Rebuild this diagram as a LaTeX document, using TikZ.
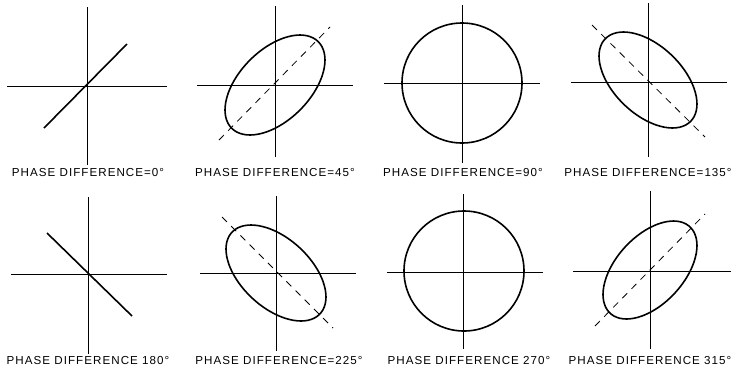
\documentclass[tikz,border=0pt]{standalone}
\usepackage{fontspec}
\newfontfamily\labfont[LetterSpace=9]{Liberation Sans}
\begin{document}
\begin{tikzpicture}[x=1pt,y=-1pt,
  axis/.style={line width=0.8pt},
  trace/.style={line width=1.6pt},
  guide/.style={line width=0.8pt, dash pattern=on 7pt off 6pt},
  caption/.style={font=\labfont\fontsize{11.6}{13}\selectfont, inner sep=0pt, anchor=center}]
\useasboundingbox (0,0) rectangle (742,368);
% ---------- top row ----------
% panel 1 : 0 deg
\draw[axis] (87,7) -- (87,165);
\draw[axis] (7,86) -- (167,86);
\draw[trace] (44,128) -- (127,44);
\node[caption] (l1) at (88,172) {PHASE DIFFERENCE=0°};
% panel 2 : 45 deg
\draw[axis] (275,6) -- (275,157);
\draw[axis] (197,85) -- (353,85);
\draw[guide] (219,140) -- (330,27);
\draw[trace] plot[smooth cycle, domain=0:350, samples=36, variable=\t] ({275+50*sin(\t)},{85-50*sin(\t+60)});
\node[caption] (l2) at (275,172) {PHASE DIFFERENCE=45°};
% panel 3 : 90 deg
\draw[axis] (462,5) -- (462,163);
\draw[axis] (384,83) -- (540,83);
\draw[trace] (462,83) circle[radius=60];
\node[caption] (l3) at (463,172) {PHASE DIFFERENCE=90°};
% panel 4 : 135 deg
\draw[axis] (648,3) -- (648,157);
\draw[axis] (571,82) -- (727,82);
\draw[guide] (592,25) -- (705,137);
\draw[trace] plot[smooth cycle, domain=0:350, samples=36, variable=\t] ({648+49*sin(\t)},{80-48*sin(\t+120)});
\node[caption] (l4) at (648,172) {PHASE DIFFERENCE=135°};
% ---------- bottom row ----------
% panel 5 : 180 deg
\draw[axis] (88,197) -- (88,354);
\draw[axis] (11,274) -- (167,274);
\draw[trace] (47,233) -- (132,316);
\node[caption] (l5) at (88,360) {PHASE DIFFERENCE 180°};
% panel 6 : 225 deg
\draw[axis] (276,196) -- (276,351);
\draw[axis] (200,273) -- (356,273);
\draw[guide] (222,217) -- (333,328);
\draw[trace] plot[smooth cycle, domain=0:350, samples=36, variable=\t] ({276+50*sin(\t)},{273-48*sin(\t+240)});
\node[caption] (l6) at (279,360) {PHASE DIFFERENCE=225°};
% panel 7 : 270 deg
\draw[axis] (463,194) -- (463,349);
\draw[axis] (387,272) -- (543,272);
\draw[trace] (464,271) circle[radius=60];
\node[caption] (l7) at (469,360) {PHASE DIFFERENCE 270°};
% panel 8 : 315 deg
\draw[axis] (650,191) -- (650,349);
\draw[axis] (573,271) -- (731,271);
\draw[guide] (595,326) -- (705,214);
\draw[trace] plot[smooth cycle, domain=0:350, samples=36, variable=\t] ({650+47*sin(\t)},{270-49*sin(\t+300)});
\node[caption] (l8) at (650,360) {PHASE DIFFERENCE 315°};
\end{tikzpicture}
\end{document}
